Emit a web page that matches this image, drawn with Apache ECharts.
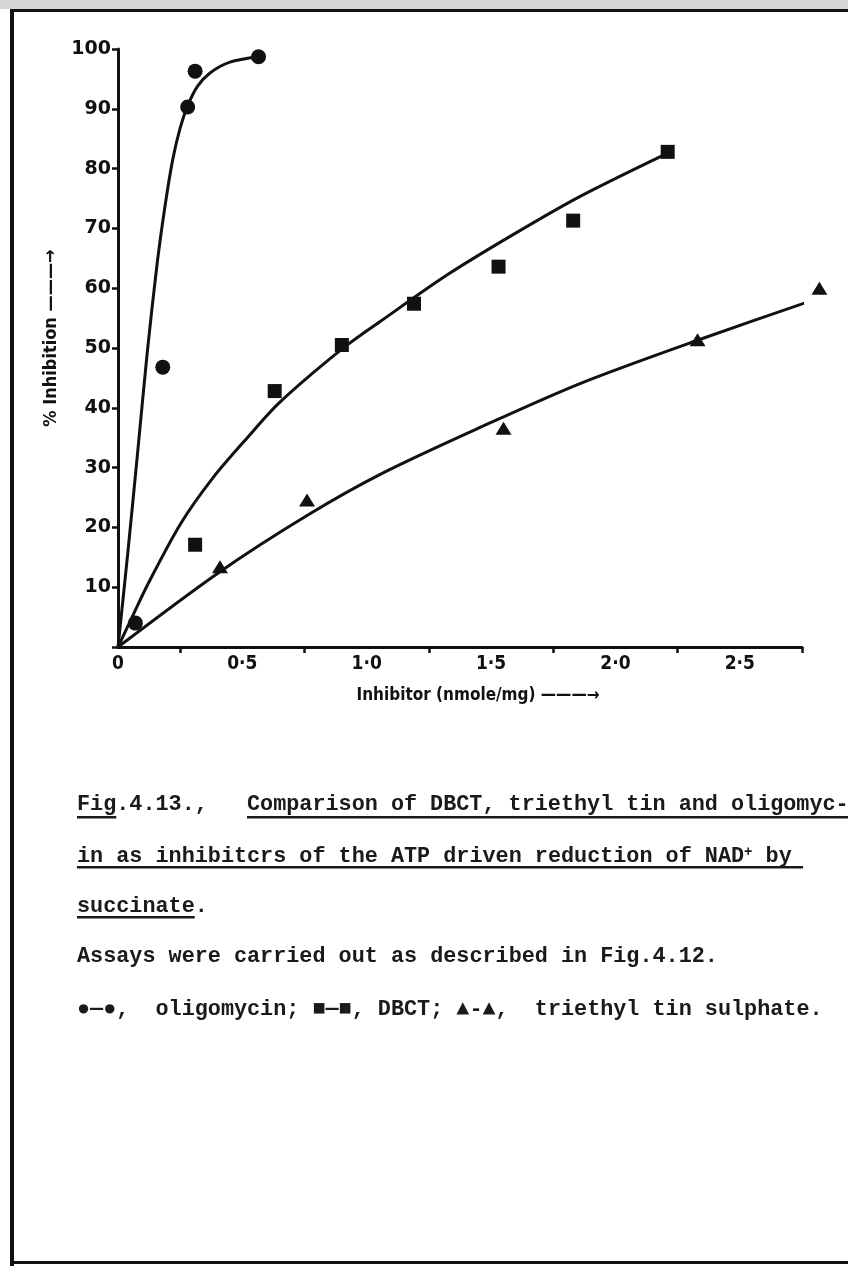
<!DOCTYPE html>
<html><head><meta charset="utf-8">
<script src="https://cdn.jsdelivr.net/npm/echarts@6/dist/echarts.min.js"></script>
<style>html,body{margin:0;padding:0;background:#fff}#c{width:848px;height:1266px}</style>
</head><body><div id="c"></div>
<script>
// ---- data ----
const xLabelValues = [0, 0.5, 1.0, 1.5, 2.0, 2.5];
const xLabelTexts  = ['0', '0·5', '1·0', '1·5', '2·0', '2·5'];
const xTickValues  = [0.25, 0.75, 1.25, 1.75, 2.25, 2.75];

const oligoPoints = [[0.07, 4], [0.18, 46.8], [0.28, 90.3], [0.31, 96.3], [0.565, 98.7]];
const oligoCurve  = [[0, 0], [0.04, 16], [0.08, 33], [0.117, 49], [0.157, 64], [0.19, 74], [0.22, 81.5], [0.25, 86.8], [0.28, 90.5], [0.32, 93.8], [0.37, 96], [0.45, 97.8], [0.565, 98.7]];

const dbctPoints = [[0.31, 17.1], [0.63, 42.8], [0.90, 50.5], [1.19, 57.4], [1.53, 63.6], [1.83, 71.3], [2.21, 82.8]];
const dbctCurve  = [[0, 0], [0.06, 5.3], [0.12, 10.5], [0.25, 20.5], [0.38, 28.2], [0.52, 35.0], [0.65, 40.9], [0.9, 49.8], [1.06, 54.6], [1.33, 62.4], [1.59, 69.0], [1.86, 75.4], [2.21, 82.6]];

const tinPoints = [[0.41, 13.4], [0.76, 24.6], [1.55, 36.6], [2.33, 51.4], [2.82, 60.0]];
const tinCurve  = [[0, 0], [0.41, 12.6], [0.76, 22.0], [1.06, 29.0], [1.46, 36.8], [1.86, 44.1], [2.33, 51.3], [2.85, 58.8]];

const captionLines = [
  'Fig.4.13.,',
  'Comparison of DBCT, triethyl tin and oligomyc-',
  'in as inhibitcrs of the ATP driven reduction of NAD{sup|+} by',
  'succinate.',
  'Assays were carried out as described in Fig.4.12.',
  '●—●,  oligomycin; ■—■, DBCT; ▲-▲,  triethyl tin sulphate.'
];

// ---- chart ----
const chart = echarts.init(document.getElementById('c'), null, {renderer: 'canvas'});
const black = '#111';
const mono = '"Liberation Mono", "DejaVu Sans Mono", monospace';
const capSize = 21.8;
const cw = capSize * 0.6;
const x0 = 77;

function capText(txt, x, y, rich) {
  return {type: 'text', x: x, y: y, style: {text: txt, font: 'bold ' + capSize + 'px ' + mono, fill: '#1a1a1a', verticalAlign: 'middle', rich: rich}};
}
function uline(x, y, w) {
  return {type: 'rect', shape: {x: x, y: y, width: w, height: 2.5}, style: {fill: '#1a1a1a'}};
}

const lineCommon = {type: 'line', smooth: 0.3, showSymbol: false, clip: false, lineStyle: {color: black, width: 3}};
const markCommon = {type: 'scatter', clip: false, itemStyle: {color: black, opacity: 1}};

const option = {
  backgroundColor: '#ffffff',
  animation: false,
  grid: {left: 118, right: 46, top: 49, bottom: 619},
  xAxis: {
    type: 'value', min: 0, max: 2.75,
    axisLine: {show: true, onZero: false, lineStyle: {color: black, width: 3}},
    axisTick: {show: true, customValues: xTickValues, inside: false, length: 6, lineStyle: {color: black, width: 2.5}},
    splitLine: {show: false},
    axisLabel: {
      customValues: xLabelValues, margin: 8, color: black,
      fontFamily: '"DejaVu Sans Condensed", "DejaVu Sans"', fontWeight: 'bold', fontSize: 19,
      formatter: function (v) { const i = xLabelValues.findIndex(a => Math.abs(a - v) < 1e-6); return i >= 0 ? xLabelTexts[i] : ''; }
    },
    name: 'Inhibitor (nmole/mg) ———→', nameLocation: 'middle', nameGap: 40,
    nameTextStyle: {color: black, fontFamily: '"DejaVu Sans Condensed", "DejaVu Sans"', fontWeight: 'bold', fontSize: 17, padding: [0, 0, 0, 36]}
  },
  yAxis: {
    type: 'value', min: 0, max: 100, interval: 10,
    axisLine: {show: true, lineStyle: {color: black, width: 3}},
    axisTick: {show: true, inside: false, length: 6, lineStyle: {color: black, width: 2.5}},
    splitLine: {show: false},
    axisLabel: {margin: 7, color: black, fontFamily: '"DejaVu Sans"', fontWeight: 'bold', fontSize: 19,
      formatter: function (v) { return v === 0 ? '' : String(v); }},
    name: '% Inhibition ———→', nameLocation: 'middle', nameRotate: 90, nameGap: 34,
    nameTextStyle: {color: black, fontFamily: '"DejaVu Sans Condensed", "DejaVu Sans"', fontWeight: 'bold', fontSize: 18, padding: [0, 0, 0, 20]}
  },
  series: [
    Object.assign({}, lineCommon, {data: oligoCurve}),
    Object.assign({}, markCommon, {data: oligoPoints, symbol: 'circle', symbolSize: 15}),
    Object.assign({}, lineCommon, {data: dbctCurve}),
    Object.assign({}, markCommon, {data: dbctPoints, symbol: 'rect', symbolSize: 14}),
    Object.assign({}, lineCommon, {data: tinCurve}),
    Object.assign({}, markCommon, {data: tinPoints, symbol: 'triangle', symbolSize: [16, 13]})
  ],
  graphic: [
    // page frame of the scanned sheet
    {type: 'rect', shape: {x: 0, y: 0, width: 848, height: 9}, style: {fill: '#d6d6d6'}},
    {type: 'rect', shape: {x: 10, y: 9, width: 838, height: 3}, style: {fill: '#111'}},
    {type: 'rect', shape: {x: 10, y: 9, width: 4, height: 1257}, style: {fill: '#111'}},
    {type: 'rect', shape: {x: 10, y: 1261, width: 838, height: 3}, style: {fill: '#111'}},
    // caption
    capText(captionLines[0], x0, 805),
    uline(x0, 816, cw * 3),
    capText(captionLines[1], 247, 805),
    uline(247, 816, 601),
    capText(captionLines[2], x0, 857, {sup: {font: 'bold 14px ' + mono, fill: '#1a1a1a', padding: [0, 0, 10, 0]}}),
    uline(x0, 866, 726),
    capText(captionLines[3], x0, 907),
    uline(x0, 916, cw * 9),
    capText(captionLines[4], x0, 957),
    capText(captionLines[5], x0, 1010)
  ]
};
chart.setOption(option);
</script>
</body></html>
